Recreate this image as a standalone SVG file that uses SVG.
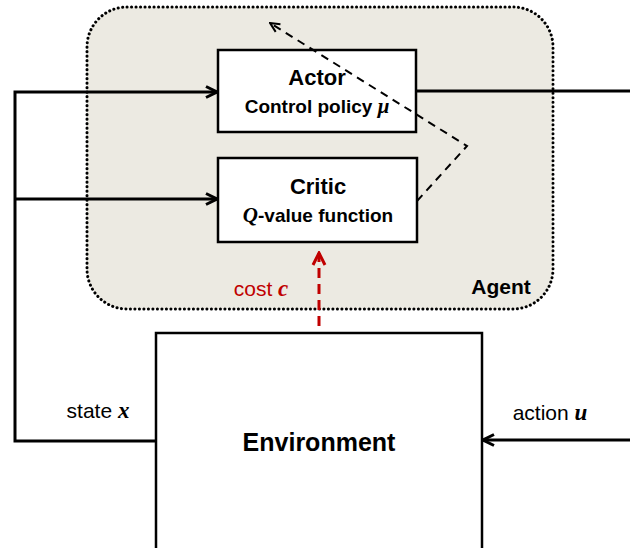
<svg xmlns="http://www.w3.org/2000/svg" width="630" height="548" viewBox="0 0 630 548">
<style>
.box{fill:#fff;stroke:#000;stroke-width:2.5}
.t{font-family:"Liberation Sans",Arial,sans-serif;fill:#000;text-anchor:middle}
.b{font-weight:bold}
.m{font-family:"Liberation Serif","Times New Roman",serif;font-weight:bold;font-style:italic}
.ln{fill:none;stroke:#000;stroke-width:3}
.dash{fill:none;stroke:#000;stroke-width:2;stroke-dasharray:8 6}
.red{fill:none;stroke:#C00000;stroke-width:3;stroke-dasharray:10 6}
</style>
<defs>
<marker id="arr" viewBox="0 0 14 14" refX="12.5" refY="7" markerWidth="14" markerHeight="14" orient="auto" markerUnits="userSpaceOnUse">
<path d="M1.5,1.5 L12.5,7 L1.5,12.5" fill="none" stroke="#000" stroke-width="3"/>
</marker>
<marker id="arrs" viewBox="0 0 12 12" refX="11" refY="6" markerWidth="12" markerHeight="12" orient="auto" markerUnits="userSpaceOnUse">
<path d="M1.5,1.5 L11,6 L1.5,10.5" fill="none" stroke="#000" stroke-width="2"/>
</marker>
<marker id="arrr" viewBox="0 0 16 16" refX="14" refY="8" markerWidth="16" markerHeight="16" orient="auto" markerUnits="userSpaceOnUse">
<path d="M2,2 L14,8 L2,14" fill="none" stroke="#C00000" stroke-width="3"/>
</marker>
</defs>
<rect width="630" height="548" fill="#fff"/>
<g id="agent">
<rect x="87" y="7" width="466" height="302" rx="40" ry="40" fill="#ECEAE2" stroke="#000" stroke-width="3" stroke-linecap="round" stroke-dasharray="0.1 4.4"/>
<text class="t b" x="501" y="294" font-size="21">Agent</text>
</g>
<g id="actor">
<rect class="box" x="218" y="50" width="198" height="82"/>
<text class="t b" x="317" y="85" font-size="22">Actor</text>
<text class="t b" x="317" y="113" font-size="19">Control policy <tspan class="m" font-size="21">μ</tspan></text>
</g>
<g id="critic">
<rect class="box" x="218" y="158" width="199" height="84"/>
<text class="t b" x="318" y="194" font-size="22">Critic</text>
<text class="t b" x="318" y="222" font-size="19"><tspan class="m" font-size="21">Q</tspan>-value function</text>
</g>
<g id="environment">
<rect class="box" x="156" y="333" width="326" height="230"/>
<text class="t b" x="319" y="451" font-size="25">Environment</text>
</g>
<g id="connectors">
<path class="ln" d="M416,91 H630"/>
<path class="ln" d="M630,440 H483" marker-end="url(#arr)"/>
<path class="ln" d="M156,441 H15 V92 H217" marker-end="url(#arr)"/>
<path class="ln" d="M15,199 H217" marker-end="url(#arr)"/>
<path class="dash" d="M417,201 L467,146 L270,23" marker-end="url(#arrs)"/>
<path class="red" d="M319,326 V253" marker-end="url(#arrr)"/>
<text class="t" x="261" y="296" font-size="21" style="fill:#C00000">cost <tspan class="m" font-size="23">c</tspan></text>
<text class="t" x="98" y="418" font-size="21">state <tspan class="m" font-size="23">x</tspan></text>
<text class="t" x="550" y="420" font-size="21">action <tspan class="m" font-size="23">u</tspan></text>
</g>
</svg>
